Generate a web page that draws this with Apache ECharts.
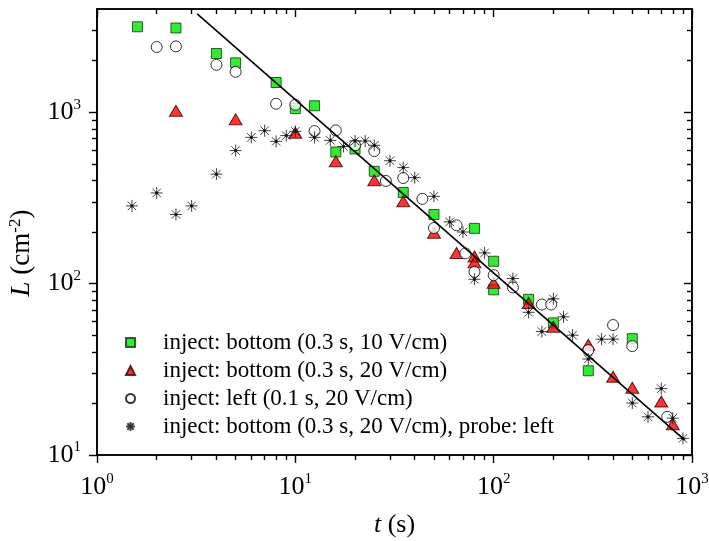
<!DOCTYPE html>
<html>
<head>
<meta charset="utf-8">
<script src="https://cdn.jsdelivr.net/npm/echarts@6/dist/echarts.min.js"></script>
<style>html,body{margin:0;padding:0;background:#fff;}#c{width:709px;height:541px;}</style>
</head>
<body>
<div id="c"></div>
<script>
// ---- data ----
const seriesNames = [
  'inject: bottom (0.3 s, 10 V/cm)',
  'inject: bottom (0.3 s, 20 V/cm)',
  'inject: left (0.1 s, 20 V/cm)',
  'inject: bottom (0.3 s, 20 V/cm), probe: left'
];
const sqT = [1.6,2.5,4,5,8,10,12.5,16,20,25,35,50,80,100,100,150,200,300,500];
const sqL = [3150,3100,2200,1940,1490,1050,1090,586,610,452,340,253,210,135,92,81,59,31,47.7];
const triT = [2.5,5,10,16,25,35,50,65,80,80,100,150,200,300,400,500,700,800];
const triL = [1020,908,759,517,401,302,198,151,144,133,101,77,56,44,28.6,24.7,20.5,15.1];
const cirT = [2,2.5,4,5,8,10,12.5,16,20,25,28.6,35,43.7,50,65,72,80,100,125,175,195,300,400,500,750];
const cirL = [2400,2420,1890,1720,1120,1105,776,783,641,593,397,413,312,211,219,150,117,112,95,75.5,75.5,40.9,57.3,43.2,16.7];
const starT = [1.5,2,2.5,3,4,5,6,7,8,9,10,12.5,15,17.5,20,22.5,25,30,35,40,50,60,70,80,90,125,150,175,200,225,250,300,350,400,500,600,700,800,900];
const starL = [284,338,253,284,435,597,713,780,676,730,773,713,685,631,679,679,641,521,475,415,323,229,200,106,151,107,68,52.5,81.5,64,50,36.3,47.4,47.4,20.1,16.7,24.4,16.4,12.5];
const fitT = [3.2, 920];
const fitL = [3750, 12.2];
const xMajor = [1,10,100,1000];
const xMinor = [2,3,4,5,6,7,8,9,20,30,40,50,60,70,80,90,200,300,400,500,600,700,800,900];
const yMajor = [10,100,1000];
const yMinor = [20,30,40,50,60,70,80,90,200,300,400,500,600,700,800,900,2000,3000];

const zip = (a,b) => a.map((v,i)=>[v,b[i]]);
const FONT = 'Liberation Serif';
const starPath = 'path://M0,-10L0,10M-10,0L10,0M-7.07,-7.07L7.07,7.07M-7.07,7.07L7.07,-7.07M-2,0A2,2,0,1,1,2,0A2,2,0,1,1,-2,0Z';

const supFmt = v => '{b|10}{s|' + Math.round(Math.log10(v)) + '}';
const labelRich = {
  b: {fontFamily: FONT, fontSize: 26, color: '#000', lineHeight: 30},
  s: {fontFamily: FONT, fontSize: 15, color: '#000', verticalAlign: 'top', lineHeight: 15}
};
const lineStyle = {color: '#000', width: 1.6};

function axis(kind, pos, vals, len, inside, labels, extra) {
  const isX = kind === 'x';
  const a = {
    type: 'log', logBase: 10, gridIndex: 0, position: pos,
    min: isX ? 1 : 10, max: isX ? 1000 : 4000,
    axisLine: {show: true, onZero: false, lineStyle: lineStyle},
    axisTick: {show: true, inside: inside, length: len, customValues: vals, lineStyle: {color: '#000', width: 1.4}},
    axisLabel: labels ? {show: true, customValues: vals, formatter: supFmt, rich: labelRich, margin: isX ? 17 : 16} : {show: false},
    splitLine: {show: false}, minorTick: {show: false}, minorSplitLine: {show: false}
  };
  return Object.assign(a, extra || {});
}

const chart = echarts.init(document.getElementById('c'), null, {renderer: 'canvas'});
chart.setOption({
  animation: false,
  backgroundColor: '#fff',
  grid: {left: 97, top: 9, width: 595, height: 446, containLabel: false, outerBoundsMode: 'none'},
  xAxis: [
    axis('x', 'bottom', xMajor, 8, false, true, {
      name: '{i|t} (s)', nameLocation: 'middle', nameGap: 57,
      nameTextStyle: {fontFamily: FONT, fontSize: 26, color: '#000',
        rich: {i: {fontFamily: FONT, fontSize: 26, fontStyle: 'italic', color: '#000'}}}
    }),
    axis('x', 'bottom', xMinor, 5, false, false),
    axis('x', 'top', xMajor, 8, true, false),
    axis('x', 'top', xMinor, 5, true, false)
  ],
  yAxis: [
    axis('y', 'left', yMajor, 8, false, true, {
      name: '{i|L} (cm{s|-2})', nameLocation: 'middle', nameGap: 56,
      nameTextStyle: {fontFamily: FONT, fontSize: 27, color: '#000', lineHeight: 30, padding: [0, 42, 0, 0],
        rich: {i: {fontFamily: FONT, fontSize: 27, fontStyle: 'italic', color: '#000', lineHeight: 30},
               s: {fontFamily: FONT, fontSize: 17, color: '#000', verticalAlign: 'top', lineHeight: 16}}}
    }),
    axis('y', 'left', yMinor, 5, false, false),
    axis('y', 'right', yMajor, 8, true, false),
    axis('y', 'right', yMinor, 5, true, false)
  ],
  legend: {
    orient: 'vertical', left: 120, top: 326,
    itemWidth: 9, itemHeight: 9, itemGap: 5,
    data: seriesNames,
    textStyle: {fontFamily: FONT, fontSize: 23, color: '#000', lineHeight: 23, padding: [0,0,0,23]}
  },
  series: [
    {name: seriesNames[0], type: 'scatter', data: zip(sqT, sqL), symbol: 'rect', symbolSize: 10,
     itemStyle: {color: '#00e600', borderColor: '#0a3a0a', borderWidth: 1}, z: 2},
    {name: seriesNames[1], type: 'scatter', data: zip(triT, triL), symbol: 'triangle', symbolSize: [13, 11],
     itemStyle: {color: '#ff0000', borderColor: '#3a0000', borderWidth: 1}, z: 3},
    {name: seriesNames[2], type: 'scatter', data: zip(cirT, cirL), symbol: 'circle', symbolSize: 11,
     itemStyle: {color: '#ffffff', borderColor: '#000', borderWidth: 1}, z: 4},
    {name: seriesNames[3], type: 'scatter', data: zip(starT, starL), symbol: starPath, symbolSize: 12,
     itemStyle: {color: '#000', borderColor: '#111', borderWidth: 1}, z: 5},
    {name: 'fit', type: 'line', data: zip(fitT, fitL), showSymbol: false, symbol: 'none',
     lineStyle: {color: '#000', width: 1.6}, z: 6}
  ]
});
</script>
</body>
</html>
